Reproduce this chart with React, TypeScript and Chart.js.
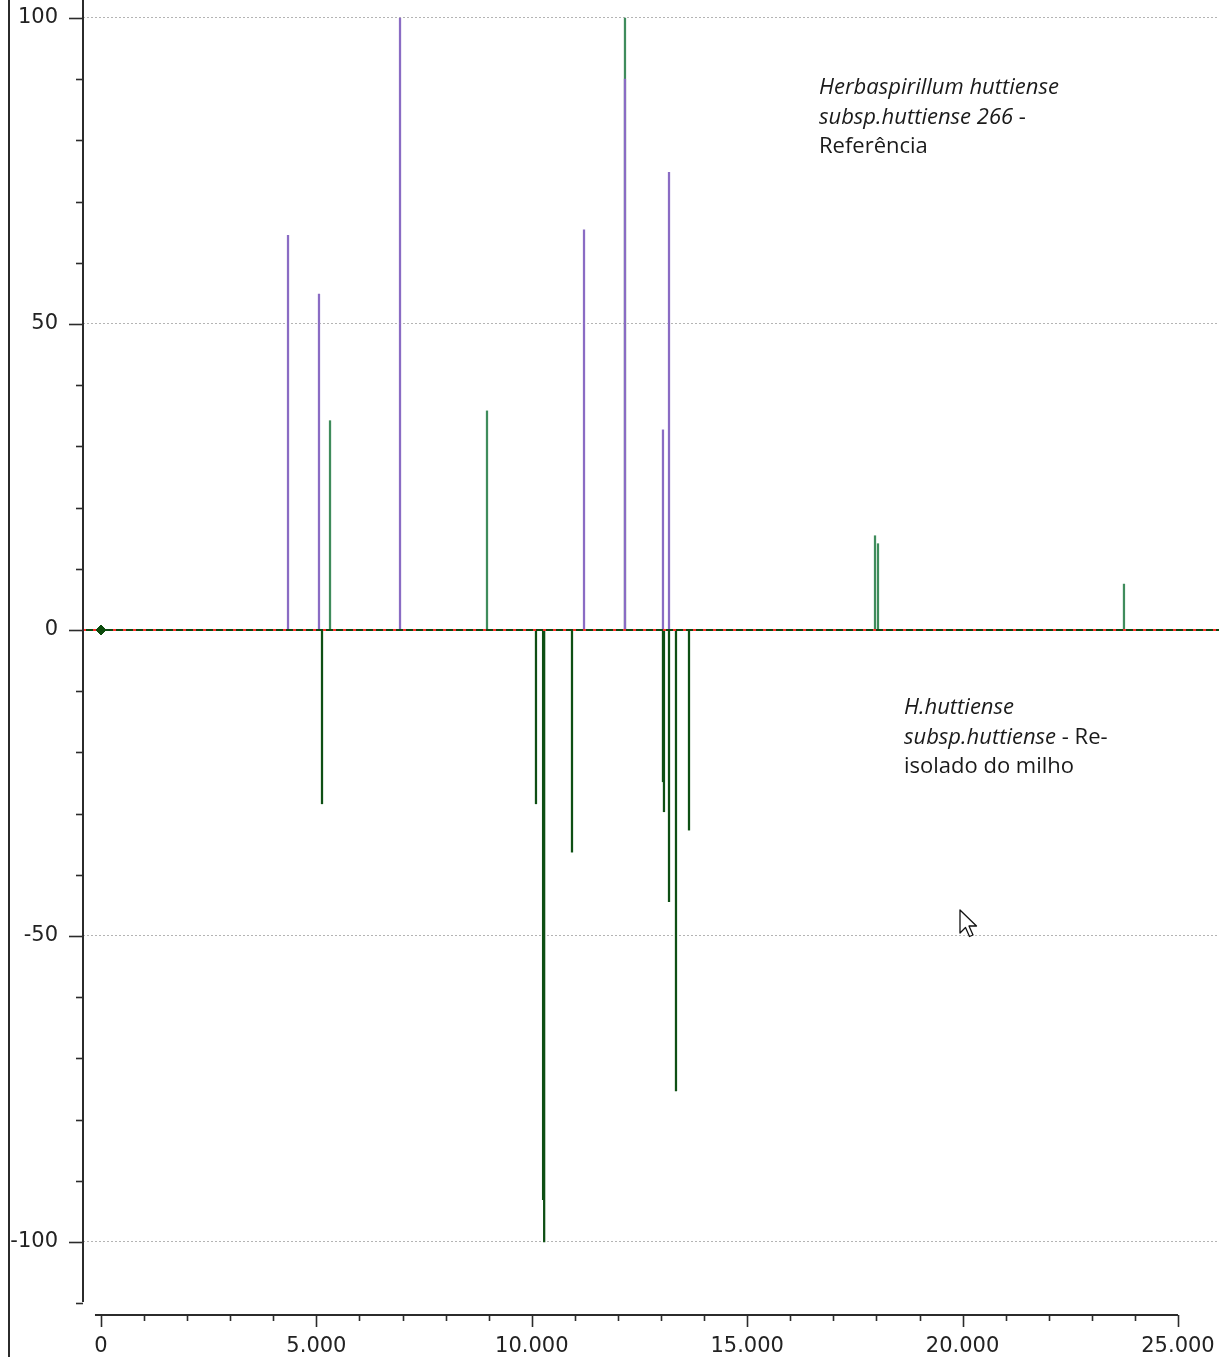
import React, { useEffect, useRef } from 'react';
import { Chart, registerables } from 'chart.js';

Chart.register(...registerables);

// Reference spectrum peaks (purple, upward)
const referenceMz = [4341, 5060, 6941, 11212, 12163, 13045, 13185];
const referenceIntensity = [64.5, 54.9, 100, 65.4, 90, 32.7, 74.8];
// Matched peaks (green, upward)
const matchedMz = [5316, 8960, 12163, 17967, 18036, 23746];
const matchedIntensity = [34.2, 35.8, 100, 15.4, 14.1, 7.5];
// Re-isolated sample peaks (dark green, downward)
const sampleMz = [5130, 10097, 10262, 10287, 10933, 13045, 13068, 13185, 13347, 13649];
const sampleIntensity = [-28.4, -28.4, -93.1, -100, -36.3, -24.8, -29.7, -44.4, -75.3, -32.7];

const xTicks = [0, 5000, 10000, 15000, 20000, 25000];
const xMinorStep = 1000;
const yTicks = [100, 50, 0, -50, -100];
const yMinorStep = 10;

const X_MIN = -418;
const X_MAX = 25952;
const Y_MIN = -111.93;
const Y_MAX = 102.94;
const X_AXIS_START = -140;
const Y_AXIS_END = -109.8;

const pts = (xs: number[], ys: number[]) => xs.map((x, i) => ({ x, y: ys[i] }));

const fmtX = (v: number) => (v === 0 ? '0' : `${v / 1000}.000`);

const axesPlugin = {
  id: 'customAxes',
  afterDraw(chart: any) {
    const { ctx, chartArea, scales } = chart;
    const x = scales.x;
    const y = scales.y;
    ctx.save();
    ctx.strokeStyle = '#2b2b2b';
    ctx.lineWidth = 2;
    const ax = chartArea.left;
    ctx.beginPath();
    ctx.moveTo(ax, y.getPixelForValue(Y_MAX));
    ctx.lineTo(ax, y.getPixelForValue(Y_AXIS_END));
    ctx.stroke();
    ctx.lineWidth = 1.6;
    for (let v = -110; v <= 100; v += yMinorStep) {
      const major = yTicks.includes(v);
      const py = Math.round(y.getPixelForValue(v)) + 0.5;
      ctx.beginPath();
      ctx.moveTo(ax - (major ? 14 : 7), py);
      ctx.lineTo(ax, py);
      ctx.stroke();
    }
    const ay = chartArea.bottom;
    ctx.lineWidth = 2;
    ctx.beginPath();
    ctx.moveTo(x.getPixelForValue(X_AXIS_START), ay);
    ctx.lineTo(x.getPixelForValue(xTicks[xTicks.length - 1]), ay);
    ctx.stroke();
    ctx.lineWidth = 1.6;
    for (let v = 0; v <= 25000; v += xMinorStep) {
      const major = xTicks.includes(v);
      const px = Math.round(x.getPixelForValue(v)) + 0.5;
      ctx.beginPath();
      ctx.moveTo(px, ay);
      ctx.lineTo(px, ay + (major ? 12 : 6));
      ctx.stroke();
    }
    ctx.restore();
  },
};

export default function App() {
  const canvasRef = useRef<HTMLCanvasElement | null>(null);

  useEffect(() => {
    if (!canvasRef.current) return;
    const chart = new Chart(canvasRef.current, {
      type: 'bar',
      data: {
        datasets: [
          {
            type: 'bar',
            data: pts(matchedMz, matchedIntensity),
            backgroundColor: '#3f8c5c',
            barThickness: 1.6,
            grouped: false,
            order: 6,
          } as any,
          {
            type: 'bar',
            data: pts(referenceMz, referenceIntensity),
            backgroundColor: '#8a6cc4',
            barThickness: 1.6,
            grouped: false,
            order: 5,
          } as any,
          {
            type: 'bar',
            data: pts(sampleMz, sampleIntensity),
            backgroundColor: '#0e4f14',
            barThickness: 1.6,
            grouped: false,
            order: 4,
          } as any,
          {
            type: 'line',
            data: [
              { x: X_MIN, y: 0 },
              { x: X_MAX, y: 0 },
            ],
            borderColor: '#0c4a10',
            borderWidth: 2,
            pointRadius: 0,
            order: 2,
          } as any,
          {
            type: 'line',
            data: [
              { x: X_MIN, y: 0 },
              { x: X_MAX, y: 0 },
            ],
            borderColor: '#ff2a2a',
            borderWidth: 2,
            borderDash: [3, 7],
            pointRadius: 0,
            order: 1,
          } as any,
          {
            type: 'line',
            data: [{ x: 0, y: 0 }],
            showLine: false,
            pointStyle: 'rectRot',
            pointRadius: 5,
            pointBackgroundColor: '#0b4a0b',
            pointBorderColor: '#0b4a0b',
            pointBorderWidth: 1,
            order: 0,
          } as any,
        ],
      },
      options: {
        animation: false,
        responsive: false,
        maintainAspectRatio: false,
        layout: { padding: 0, autoPadding: false },
        plugins: { legend: { display: false }, tooltip: { enabled: false } },
        scales: {
          x: {
            type: 'linear',
            min: X_MIN,
            max: X_MAX,
            offset: false,
            grid: { display: false, drawTicks: false },
            border: { display: false },
            afterBuildTicks: (s: any) => {
              s.ticks = xTicks.map((v) => ({ value: v }));
            },
            afterFit: (s: any) => {
              s.height = 42;
              s.paddingLeft = 0;
              s.paddingRight = 0;
              s.paddingTop = 0;
              s.paddingBottom = 0;
            },
            ticks: {
              autoSkip: false,
              maxRotation: 0,
              padding: 19,
              color: '#222',
              font: { family: 'DejaVu Sans', size: 21 },
              callback: (v: any) => fmtX(Number(v)),
            },
          },
          y: {
            type: 'linear',
            min: Y_MIN,
            max: Y_MAX,
            grid: {
              drawTicks: false,
              lineWidth: 1,
              color: (c: any) => (c.tick && c.tick.value === 0 ? 'rgba(0,0,0,0)' : '#b4b4b4'),
            },
            border: { display: false, dash: [2, 2] },
            afterBuildTicks: (s: any) => {
              s.ticks = yTicks.map((v) => ({ value: v }));
            },
            afterFit: (s: any) => {
              s.width = 83;
              s.paddingLeft = 0;
              s.paddingRight = 0;
              s.paddingTop = 0;
              s.paddingBottom = 0;
            },
            ticks: {
              padding: 25,
              color: '#222',
              font: { family: 'DejaVu Sans', size: 21 },
            },
          },
        },
      },
      plugins: [axesPlugin],
    });
    return () => chart.destroy();
  }, []);

  const textStyle: React.CSSProperties = {
    position: 'absolute',
    fontFamily: '"Open Sans", "Noto Sans", sans-serif',
    fontSize: 22,
    lineHeight: '29.5px',
    color: '#1a1a1a',
    whiteSpace: 'nowrap',
    fontVariantLigatures: 'none',
  };

  return (
    <div style={{ position: 'absolute', left: 0, top: 0, width: 1219, height: 1357, background: '#fff', overflow: 'hidden' }}>
      <canvas ref={canvasRef} width={1219} height={1357} style={{ display: 'block' }} />
      <div style={{ position: 'absolute', left: 8, top: 0, width: 2, height: 1357, background: '#2b2b2b' }} />
      <div style={{ ...textStyle, left: 819, top: 71 }}>
        <div><i>Herbaspirillum huttiense</i></div>
        <div><i>subsp.huttiense 266</i> -</div>
        <div>Referência</div>
      </div>
      <div style={{ ...textStyle, left: 904, top: 691 }}>
        <div><i>H.huttiense</i></div>
        <div><i>subsp.huttiense</i> - Re-</div>
        <div>isolado do milho</div>
      </div>
      <svg style={{ position: 'absolute', left: 959, top: 909 }} width="24" height="34" viewBox="0 0 24 34">
        <path d="M1 1 L1 24 L6.5 18.5 L10.5 27.5 L14 26 L10 17 L17.5 17 Z" fill="#fff" stroke="#111" strokeWidth="1.3" strokeLinejoin="round" />
      </svg>
    </div>
  );
}
